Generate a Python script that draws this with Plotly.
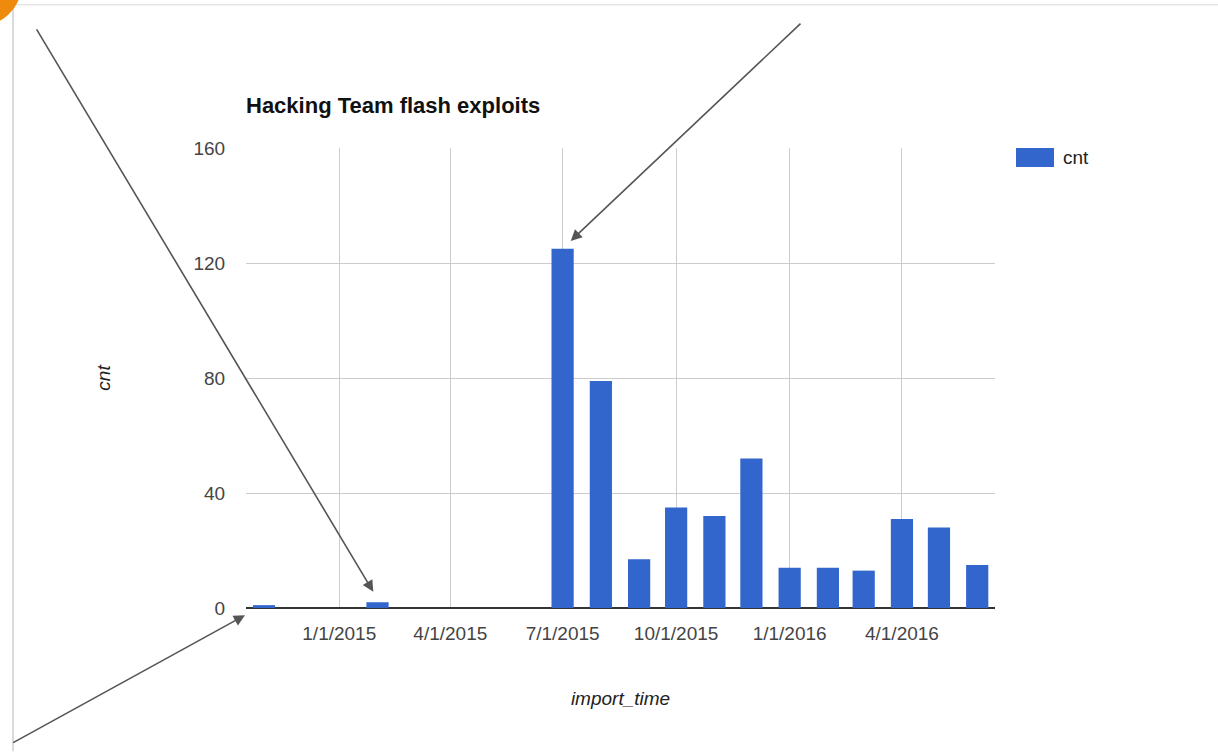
import plotly.graph_objects as go

# ---- data ----
months = ["2014-11-01", "2015-02-01", "2015-07-01", "2015-08-01", "2015-09-01",
          "2015-10-01", "2015-11-01", "2015-12-01", "2016-01-01", "2016-02-01",
          "2016-03-01", "2016-04-01", "2016-05-01", "2016-06-01"]
cnt = [1, 2, 125, 79, 17, 35, 32, 52, 14, 14, 13, 31, 28, 15]
tick_vals = ["2015-01-01", "2015-04-01", "2015-07-01", "2015-10-01", "2016-01-01", "2016-04-01"]
tick_text = ["1/1/2015", "4/1/2015", "7/1/2015", "10/1/2015", "1/1/2016", "4/1/2016"]
y_ticks = [0, 40, 80, 120, 160]

W, H = 1218, 752
PL, PR, PT, PB = 246, 995, 148, 608.5  # plot area in pixels


def px(p):
    return (p - PL) / (PR - PL)


def py(p):
    return (PB - p) / (PB - PT)


FONT = "Arial, Liberation Sans, sans-serif"
BLUE = "#3366cc"

fig = go.Figure()
fig.add_trace(go.Bar(
    x=months, y=cnt, name="cnt", marker=dict(color=BLUE, line=dict(width=0)),
    width=18 * 86400000, showlegend=False,
))

fig.update_layout(
    width=W, height=H, autosize=False,
    margin=dict(l=PL, r=W - PR, t=PT, b=H - PB, pad=0),
    paper_bgcolor="white", plot_bgcolor="white",
    font=dict(family=FONT, size=19, color="#444"),
    title=dict(text="<b>Hacking Team flash exploits</b>", font=dict(size=22, color="#111", family=FONT),
               xref="paper", x=0, xanchor="left", yref="container", y=1 - 105 / H, yanchor="middle"),
    xaxis=dict(
        type="date", range=["2014-10-17 10:00", "2016-06-15 10:00"],
        tickmode="array", tickvals=tick_vals, ticktext=tick_text,
        showgrid=True, gridcolor="#cccccc", gridwidth=1,
        ticks="outside", ticklen=8, tickcolor="rgba(0,0,0,0)",
        tickfont=dict(size=19, color="#444"),
        showline=False, zeroline=False,
        title=dict(text="<i>import_time</i>", font=dict(size=19, color="#222"), standoff=48),
    ),
    yaxis=dict(
        range=[0, 160], tickmode="array", tickvals=y_ticks,
        showgrid=True, gridcolor="#cccccc", gridwidth=1,
        zeroline=True, zerolinecolor="#333333", zerolinewidth=1.5,
        ticks="outside", ticklen=16, tickcolor="rgba(0,0,0,0)",
        tickfont=dict(size=19, color="#444"),
        showline=False,
        title=dict(text="<i>cnt</i>", font=dict(size=19, color="#222"), standoff=77),
    ),
    bargap=0.4,
)

# legend drawn as swatch + label
fig.add_shape(type="rect", xref="paper", yref="paper",
              x0=px(1016), x1=px(1054), y0=py(167), y1=py(148),
              fillcolor=BLUE, line=dict(width=0))
fig.add_annotation(text="cnt", xref="paper", yref="paper", x=px(1061), y=py(158),
                   xanchor="left", yanchor="middle", showarrow=False,
                   font=dict(size=19, color="#222", family=FONT))

# screenshot frame and corner decoration
fig.add_shape(type="line", xref="paper", yref="paper", x0=px(13), x1=px(1218), y0=py(4.5), y1=py(4.5),
              line=dict(color="#e6e6e6", width=1.5))
fig.add_shape(type="line", xref="paper", yref="paper", x0=px(13), x1=px(13), y0=py(4.5), y1=py(752),
              line=dict(color="#cfcfcf", width=1.5))
fig.add_shape(type="circle", xref="paper", yref="paper", x0=px(-70), x1=px(22), y0=py(-60), y1=py(27),
              fillcolor="#ee8a0e", line=dict(width=0))

# arrows drawn on top of the chart
arrows = [((373.3, 592.3), (35.7, 28.3)),
          ((570.7, 241.0), (802.0, 22.3)),
          ((245.0, 615.7), (11.7, 744.0))]
for (hx, hy), (tx, ty) in arrows:
    fig.add_annotation(text="", xref="paper", yref="paper", x=px(hx), y=py(hy),
                       ax=tx - hx, ay=ty - hy, axref="pixel", ayref="pixel",
                       showarrow=True, arrowhead=2, arrowsize=1.4, arrowwidth=1.6,
                       arrowcolor="#555555", standoff=0, startstandoff=0)

fig.write_html("out.html")
